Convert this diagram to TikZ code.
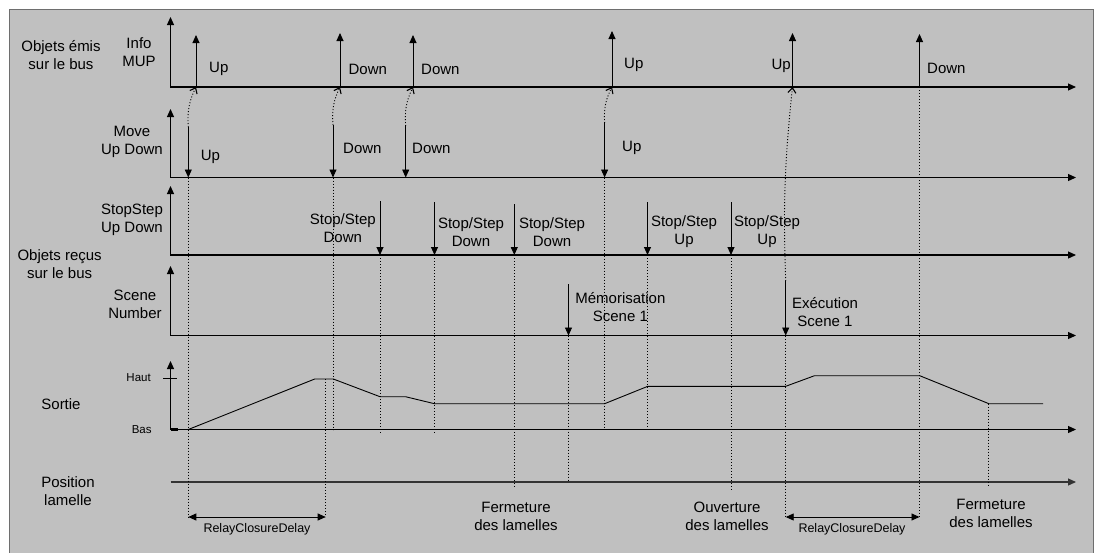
\documentclass[tikz,border=0pt]{standalone}
\usepackage{fontspec}
\setmainfont{Liberation Sans}
\usetikzlibrary{arrows.meta}
\definecolor{bggray}{HTML}{C0C0C0}
\definecolor{framegray}{HTML}{6E6E6E}
\definecolor{ink}{HTML}{000000}
\begin{document}
\begin{tikzpicture}[x=1pt,y=-1pt,
  lbl/.style={font=\fontsize{15}{18}\selectfont, align=center, inner sep=0pt, text=ink},
  sml/.style={font=\fontsize{11.5}{13}\selectfont, inner sep=0pt, text=ink},
  rcd/.style={font=\fontsize{12.5}{14}\selectfont, inner sep=0pt, text=ink},
  axis/.style={draw=ink, line width=1.15pt, {Triangle[length=8pt,width=7pt]}-{Triangle[length=8pt,width=7pt]}},
  axisend/.style={draw=ink!80, line width=1.15pt, -{Triangle[length=8pt,width=7pt]}},
  evarrow/.style={draw=ink, line width=0.9pt, -{Triangle[length=8pt,width=7pt]}},
  dotline/.style={draw=ink, line width=0.9pt, dash pattern=on 1pt off 2pt},
  dotarrow/.style={dotline, -{Straight Barb[length=5pt,width=8pt,line width=1.1pt]}},
  delay/.style={draw=ink, line width=0.9pt, {Triangle[length=8pt,width=7pt]}-{Triangle[length=8pt,width=7pt]}},
  wave/.style={draw=ink, line width=0.9pt, line join=miter}
]
\useasboundingbox (0,0) rectangle (1095,552);
\clip (0,0) rectangle (1095,552);
\draw[fill=bggray, draw=framegray, line width=1pt] (9.5,9.5) rectangle (1093,600);

% ---------- axes ----------
\foreach \n/\y/\t in {ax1/87/17, ax2/177.5/109, ax3/255/186, ax4/335.5/266, ax5/429.5/361} {
  \coordinate (\n-o) at (170.5,\y);
  \coordinate (\n-t) at (170.5,\t);
  \coordinate (\n-e) at (1076,\y);
  \draw[axis] (\n-t) -- (\n-o) -- (\n-e);
}
\coordinate (ax6-o) at (170.5,482);
\coordinate (ax6-e) at (1076,482);
\draw[axisend] (ax6-o) -- (ax6-e);

% Haut / Bas ticks
\coordinate (hautA) at (163,378.5);
\coordinate (hautB) at (177,378.5);
\draw[draw=ink, line width=0.9pt] (hautA) -- (hautB);
\coordinate (basA) at (170.5,429.5);
\coordinate (basB) at (177.5,429.5);
\draw[draw=ink, line width=2.2pt] (basA) -- (basB);
\node[sml] (haut) at (138.6,378) {Haut};
\node[sml] (bas) at (141.7,430) {Bas};

% ---------- row labels ----------
\node[lbl] (emis) at (61,55) {Objets émis\\sur le bus};
\node[lbl] (info) at (139,52) {Info\\MUP};
\node[lbl] (move) at (132,142) {Move\\Up Down};
\node[lbl] (stop) at (132,219.5) {StopStep\\Up Down};
\node[lbl] (recus) at (59.6,264.5) {Objets reçus\\sur le bus};
\node[lbl] (scene) at (135,304) {Scene\\Number};
\node[lbl] (sortie) at (61,404) {Sortie};
\node[lbl] (posl) at (68,491) {Position\\lamelle};

% ---------- Info MUP (up arrows) ----------
\foreach \n/\x/\t in {iu1/196/35, id1/340/33, id2/413/35, iu2/612/31, iu3/792.5/33, id3/919.5/34} {
  \coordinate (\n-b) at (\x,87);
  \coordinate (\n-t) at (\x,\t);
  \draw[evarrow] (\n-b) -- (\n-t);
}
\node[lbl, anchor=west] (liu1) at (209,69) {Up};
\node[lbl, anchor=west] (lid1) at (348.4,69) {Down};
\node[lbl, anchor=west] (lid2) at (421,69) {Down};
\node[lbl, anchor=west] (liu2) at (624,65) {Up};
\node[lbl, anchor=east] (liu3) at (791,66) {Up};
\node[lbl, anchor=west] (lid3) at (927,68) {Down};

% ---------- Move Up Down (down arrows) ----------
\foreach \n/\x/\t in {mu1/188.3/127, md1/333/125, md2/405.7/126, mu2/604.6/123} {
  \coordinate (\n-t) at (\x,\t);
  \coordinate (\n-b) at (\x,177.5);
  \draw[evarrow] (\n-t) -- (\n-b);
}
\node[lbl, anchor=west] (lmu1) at (200.7,156.7) {Up};
\node[lbl, anchor=west] (lmd1) at (343,148) {Down};
\node[lbl, anchor=west] (lmd2) at (412,148) {Down};
\node[lbl, anchor=west] (lmu2) at (622,148) {Up};

% ---------- StopStep (down arrows) ----------
\foreach \n/\x/\t in {s1/380/201, s2/434.5/202, s3/514.3/204, s4/647.5/202, s5/731/202} {
  \coordinate (\n-t) at (\x,\t);
  \coordinate (\n-b) at (\x,255);
  \draw[evarrow] (\n-t) -- (\n-b);
}
\node[lbl] (ls1) at (342.8,228.3) {Stop/Step\\Down};
\node[lbl] (ls2) at (471,231.7) {Stop/Step\\Down};
\node[lbl] (ls3) at (552,231.7) {Stop/Step\\Down};
\node[lbl] (ls4) at (684,231.7) {Stop/Step\\Up};
\node[lbl] (ls5) at (767,231.7) {Stop/Step\\Up};

% ---------- Scene Number (down arrows) ----------
\foreach \n/\x/\t in {sc1/568.5/284, sc2/785.7/281} {
  \coordinate (\n-t) at (\x,\t);
  \coordinate (\n-b) at (\x,335.5);
  \draw[evarrow] (\n-t) -- (\n-b);
}
\node[lbl] (lsc1) at (620.4,306.7) {Mémorisation\\Scene 1};
\node[lbl] (lsc2) at (825,312) {Exécution\\Scene 1};

% ---------- dotted curved links ----------
\draw[dotarrow] (mu1-t) to[bend left=15] (iu1-b);
\draw[dotarrow] (md1-t) to[bend left=15] (id1-b);
\draw[dotarrow] (md2-t) to[bend left=15] (id2-b);
\draw[dotarrow] (mu2-t) to[bend left=15] (iu2-b);
\draw[dotarrow] (sc2-t) to[bend left=4] (iu3-b);

% ---------- dotted verticals ----------
\coordinate (dA) at (188.3,517);
\coordinate (dB1) at (333,429.5);
\coordinate (dC0) at (325.7,379);
\coordinate (dC1) at (325.7,517);
\coordinate (dS1) at (380,433);
\coordinate (dS2) at (434.5,433);
\coordinate (dS3) at (514.3,488);
\coordinate (dSc1) at (568.5,480);
\coordinate (dM2) at (604.6,427);
\coordinate (dS4) at (647.5,431);
\coordinate (dS5) at (731,490);
\coordinate (dSc2) at (785.7,517);
\coordinate (dI3) at (919.5,517);
\coordinate (dW0) at (988.9,403.7);
\coordinate (dW1) at (988.9,486);
\draw[dotline] (mu1-b) -- (dA);
\draw[dotline] (md1-b) -- (dB1);
\draw[dotline] (dC0) -- (dC1);
\draw[dotline] (s1-b) -- (dS1);
\draw[dotline] (s2-b) -- (dS2);
\draw[dotline] (s3-b) -- (dS3);
\draw[dotline] (sc1-b) -- (dSc1);
\draw[dotline] (mu2-b) -- (dM2);
\draw[dotline] (s4-b) -- (dS4);
\draw[dotline] (s5-b) -- (dS5);
\draw[dotline] (sc2-b) -- (dSc2);
\draw[dotline] (id3-b) -- (dI3);
\draw[dotline] (dW0) -- (dW1);

% ---------- Sortie waveform ----------
\draw[wave] (188.3,429.5) -- (314.7,379) -- (333.3,379) -- (380,396.7) -- (405.5,396.7)
  -- (434.5,403.7) -- (604.6,403.7) -- (647.8,386.3) -- (785.7,386.3) -- (814.5,375.7)
  -- (919.7,375.7) -- (988.9,403.7) -- (1043,403.7);

% ---------- RelayClosureDelay ----------
\draw[delay] (dA) -- (dC1);
\node[rcd] (rcd1) at (257,529) {RelayClosureDelay};
\draw[delay] (dSc2) -- (dI3);
\node[rcd] (rcd2) at (852,529) {RelayClosureDelay};

% ---------- bottom labels ----------
\node[lbl] (ferm1) at (516,516) {Fermeture\\des lamelles};
\node[lbl] (ouv) at (727,516) {Ouverture\\des lamelles};
\node[lbl] (ferm2) at (991,513) {Fermeture\\des lamelles};
\end{tikzpicture}
\end{document}
